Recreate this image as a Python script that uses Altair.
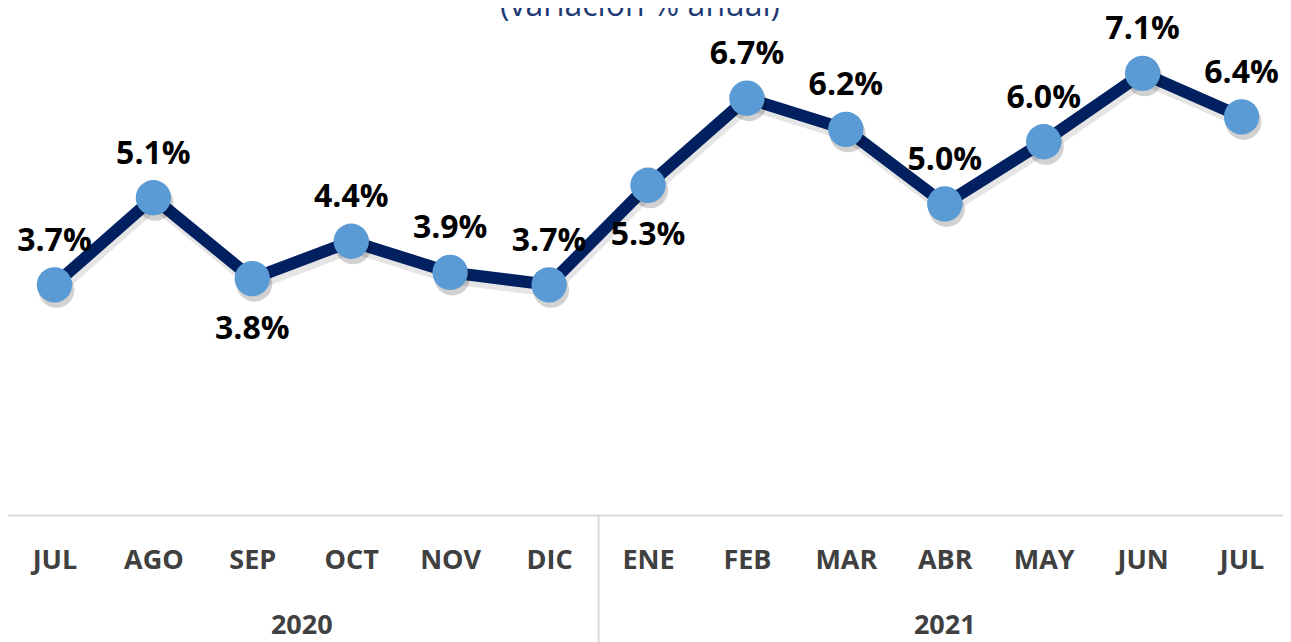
import altair as alt
import pandas as pd

# ---- data ----
months = ["JUL", "AGO", "SEP", "OCT", "NOV", "DIC", "ENE", "FEB", "MAR", "ABR", "MAY", "JUN", "JUL"]
years = ["2020"] * 6 + ["2021"] * 7
values = [3.7, 5.1, 3.8, 4.4, 3.9, 3.7, 5.3, 6.7, 6.2, 5.0, 6.0, 7.1, 6.4]
title_text = "(variación % anual)"

df = pd.DataFrame({"i": list(range(len(months))), "month": months, "year": years, "value": values})
df["label"] = df["value"].map(lambda v: f"{v:.1f}%")
df["key"] = df["month"] + " " + df["year"]

year_df = df.groupby("year", as_index=False).agg(i=("i", "mean"), lo=("i", "min"))
sep_df = pd.DataFrame({"i": [v - 0.5 for v in year_df["lo"]]})
title_df = pd.DataFrame({"t": [title_text]})

FONT = "Open Sans"
W, H = 1275, 507
n = len(months)

label_expr = "[" + ",".join(f"'{m}'" for m in months) + "][datum.value]"

x_scale = alt.Scale(domain=[-0.5, n - 0.5], range=[-3, 1283], nice=False, zero=False)
x_enc = alt.X(
    "i:Q",
    scale=x_scale,
    axis=alt.Axis(
        values=list(range(n)),
        labelExpr=label_expr,
        grid=False,
        ticks=False,
        tickSize=0,
        domainColor="#d9d9d9",
        domainWidth=2,
        labelFont=FONT,
        labelFontSize=27,
        labelFontWeight="bold",
        labelColor="#404040",
        labelPadding=45,
        labelBaseline="middle",
        labelFlush=False,
        labelOverlap=False,
        title=None,
    ),
)
y_enc = alt.Y("value:Q", scale=alt.Scale(domain=[0, 8.15], nice=False, zero=True), axis=None)

base = alt.Chart(df)

line_shadow = base.mark_line(strokeWidth=12, color="#000000", opacity=0.10, xOffset=2, yOffset=6,
                             strokeJoin="round").encode(x=x_enc, y=y_enc)
line = base.mark_line(strokeWidth=12, color="#002060", strokeJoin="round").encode(x=x_enc, y=y_enc)
pt_shadow = base.mark_circle(size=1300, color="#000000", opacity=0.18, xOffset=2, yOffset=5).encode(x="i:Q", y="value:Q")
points = base.mark_circle(size=1250, color="#5B9BD5", opacity=1).encode(x="i:Q", y="value:Q")

below = ["SEP 2020", "ENE 2021"]
labels_above = base.transform_filter(
    ~alt.FieldOneOfPredicate(field="key", oneOf=below)
).mark_text(font=FONT, fontSize=32, fontWeight="bold", color="#000000", dy=-44, baseline="middle").encode(
    x="i:Q", y="value:Q", text="label:N")
labels_below = base.transform_filter(
    alt.FieldOneOfPredicate(field="key", oneOf=below)
).mark_text(font=FONT, fontSize=32, fontWeight="bold", color="#000000", dy=50, baseline="middle").encode(
    x="i:Q", y="value:Q", text="label:N")

seps = alt.Chart(sep_df).mark_rule(color="#d9d9d9", strokeWidth=2).encode(
    x="i:Q", y=alt.value(H), y2=alt.value(H + 140))

year_labels = alt.Chart(year_df).mark_text(
    font=FONT, fontSize=27, fontWeight="bold", color="#404040", baseline="middle").encode(
    x="i:Q", y=alt.value(H + 111), text="year:N")

title = alt.Chart(title_df).mark_text(
    font=FONT, fontSize=32, color="#1f3b73", baseline="alphabetic", align="center").encode(
    x=alt.value(632), y=alt.value(8), text="t:N")

chart = alt.layer(
    line_shadow, line, pt_shadow, points, labels_above, labels_below, seps, year_labels, title
).properties(
    width=W,
    height=H,
    background="white",
    padding={"left": 0, "top": 0, "right": 0, "bottom": 127},
    autosize=alt.AutoSizeParams(type="none"),
).configure_view(strokeWidth=0, stroke="transparent")

chart.save("out.html", embed_options={"renderer": "svg", "actions": False})
